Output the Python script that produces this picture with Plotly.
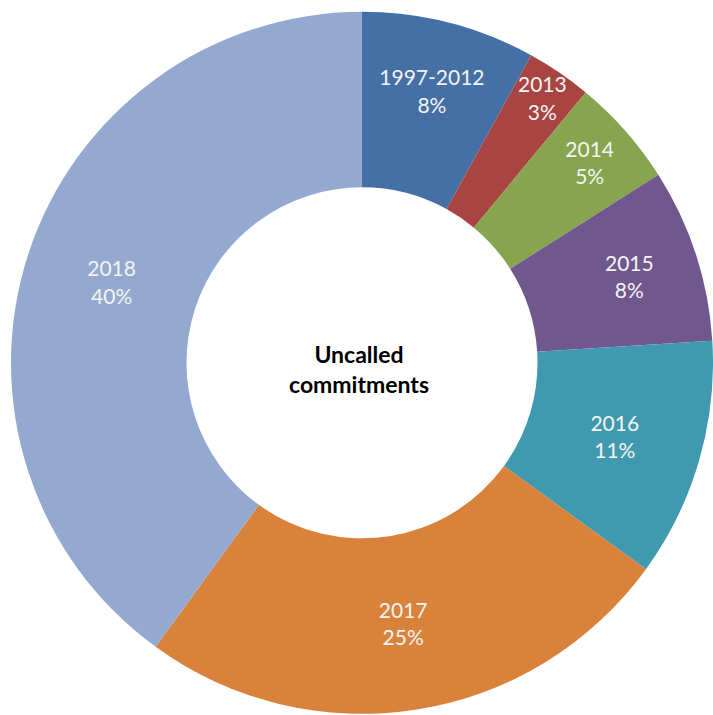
import plotly.graph_objects as go

labels = ["1997-2012", "2013", "2014", "2015", "2016", "2017", "2018"]
values = [8, 3, 5, 8, 11, 25, 40]
colors = ["#4470A6", "#A84543", "#87A54E", "#70588F", "#4199AF", "#D9823B", "#93A9CF"]
center_text = "Uncalled<br>commitments"

fig = go.Figure(
    go.Pie(
        labels=labels,
        values=values,
        hole=0.5,
        sort=False,
        direction="clockwise",
        rotation=0,
        marker=dict(colors=colors, line=dict(color="white", width=0)),
        textinfo="label+percent",
        texttemplate="%{label}<br>%{percent:.0%}",
        textposition="inside",
        insidetextorientation="horizontal",
        textfont=dict(family="Lato, Open Sans, sans-serif", size=21, color="#F4F4F4"),
        domain=dict(x=[0.0154, 1.0], y=[0.0, 0.985]),
        showlegend=False,
    )
)

fig.add_annotation(
    text="<b>" + center_text + "</b>",
    x=0.503, y=0.484, xref="paper", yref="paper",
    showarrow=False,
    font=dict(family="Lato, Open Sans, sans-serif", size=23, color="black"),
    align="center",
)

fig.update_layout(
    width=713, height=715,
    margin=dict(l=0, r=0, t=0, b=0),
    paper_bgcolor="white",
    plot_bgcolor="white",
    uniformtext=dict(minsize=21, mode="show"),
)

fig.write_html("out.html")
